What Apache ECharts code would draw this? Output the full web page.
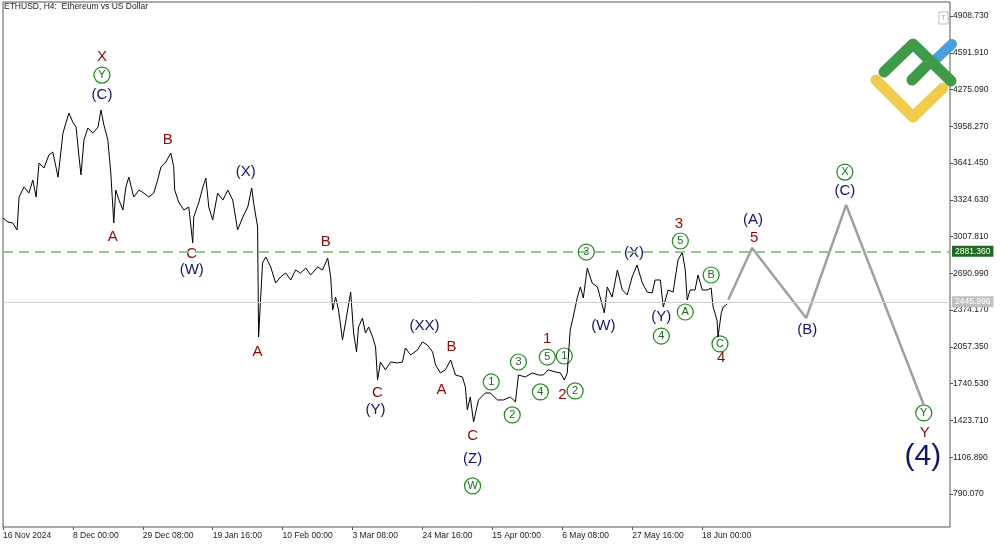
<!DOCTYPE html>
<html>
<head>
<meta charset="utf-8">
<script src="https://cdn.jsdelivr.net/npm/echarts@6/dist/echarts.min.js"></script>
<style>html,body{margin:0;padding:0;background:#fff}#main{width:1000px;height:545px}</style>
</head>
<body>
<div id="main"></div>
<script>
// days since 16 Nov 2024 00:00, ETHUSD H4 price
var priceDays = [0,1.5,3.0,4.3,4.9,6.4,7.9,9.1,10.1,11.0,12.5,14.0,15.2,16.8,18.3,19.2,20.1,21.3,22.3,23.2,23.8,24.7,25.9,27.4,29.0,29.9,30.8,32.0,32.9,33.8,34.4,35.4,36.6,37.5,38.4,39.9,41.5,43.0,44.5,46.0,47.2,48.2,49.7,51.2,52.1,52.4,53.6,55.2,56.7,57.9,58.2,59.7,61.0,61.9,62.8,64.0,65.5,67.1,68.6,70.1,71.6,73.2,74.7,75.9,76.5,77.7,78.0,79.2,80.2,81.7,83.2,84.7,86.3,87.8,89.3,90.8,92.4,93.9,96.0,97.5,99.1,100.0,100.6,101.5,102.4,103.6,104.5,106.1,107.0,107.9,108.5,109.7,110.6,111.6,112.8,113.7,114.3,115.2,116.7,118.3,120.4,121.9,122.8,124.4,126.5,128.0,129.5,131.1,132.0,133.5,135.0,136.6,138.1,140.2,141.1,141.7,142.6,143.6,145.1,147.2,148.7,150.9,152.7,154.8,156.4,157.3,159.4,161.5,163.4,164.9,166.4,168.6,170.1,171.3,172.2,173.1,174.0,175.3,176.2,177.1,178.3,179.8,181.4,182.3,183.5,184.4,185.9,187.5,189.0,190.5,192.0,193.5,195.1,196.6,198.1,199.0,200.6,201.5,203.0,204.5,206.0,207.3,208.2,208.8,209.7,211.2,212.1,213.4,214.9,216.1,216.7,217.9,218.2,219.2,219.8,221.0];
var priceValues = [3168,3134,3125,3065,3349,3435,3383,3495,3349,3642,3599,3711,3737,3521,3900,3987,4073,3995,3952,3694,3539,3840,3944,3900,3952,4099,3969,3840,3556,3125,3409,3323,3237,3435,3521,3349,3409,3383,3349,3383,3495,3608,3651,3728,3608,3409,3306,3237,3263,2953,3177,3297,3435,3513,3263,3151,3383,3323,3409,3323,3065,3177,3263,3427,3297,3091,2143,2780,2832,2746,2608,2660,2694,2634,2720,2694,2737,2677,2746,2720,2823,2660,2375,2487,2375,2117,2263,2530,2177,2014,2229,2306,2177,2229,2143,2057,1772,1927,1859,1927,1919,1927,2048,1988,2031,2100,2074,2014,1902,1833,1859,1945,1815,1798,1712,1514,1626,1410,1600,1660,1660,1600,1600,1626,1583,1815,1798,1833,1815,1815,1859,1841,1833,1772,1833,2203,2315,2487,2574,2479,2737,2608,2574,2479,2350,2574,2487,2720,2548,2505,2660,2763,2608,2530,2522,2634,2634,2401,2548,2530,2806,2875,2720,2462,2548,2548,2677,2548,2548,2565,2401,2287,2143,2350,2401,2426];
// forecast path
var forecastDays = [221.3,228.6,245.1,257.3,281.0];
var forecastValues = [2462,2910,2306,3280,1557];

var yTicks = [790.07,1106.89,1423.71,1740.53,2057.35,2374.17,2690.99,3007.81,3324.63,3641.45,3958.27,4275.09,4591.91,4908.73];
var xTickLabels = ['16 Nov 2024','8 Dec 00:00','29 Dec 08:00','19 Jan 16:00','10 Feb 00:00','3 Mar 08:00','24 Mar 16:00','15 Apr 00:00','6 May 08:00','27 May 16:00','18 Jun 00:00'];
var resistanceLevel = 2881.36;
var lastPrice = 2445.996;

// wave labels
var redText = ['X','A','B','C','A','B','C','A','B','C','1','2','3','5','4','Y'];
var redDays = [30.2,33.5,50.3,57.6,77.7,98.5,114.3,133.8,136.9,143.3,166.1,170.7,206.3,229.2,219.2,281.3];
var redValues = [4560,3004,3840,2858,2014,2961,1660,1686,2057,1290,2126,1643,3116,2996,1962,1316];
var blueText = ['(C)','(W)','(X)','(XX)','(Y)','(Z)','(W)','(X)','(Y)','(A)','(B)','(C)'];
var blueDays = [30.2,57.6,74.1,128.6,113.7,143.3,183.2,192.6,200.9,228.9,245.4,256.9];
var blueValues = [4228,2720,3564,2237,1514,1092,2237,2866,2315,3151,2203,3401];
var circText = ['Y','W','1','2','3','4','5','1','2','3','4','5','A','B','C','X','Y'];
var circDays = [30.2,143.3,149.0,155.4,157.3,164.0,166.1,171.3,174.6,178.0,200.9,206.7,208.2,216.1,218.8,256.9,281.0];
var circValues = [4400,859,1755,1471,1927,1669,1970,1979,1678,2875,2151,2970,2358,2677,2083,3564,1488];

function zip(a, b, t) { return a.map(function (v, i) { return t ? { value: [v, b[i]], name: t[i] } : [v, b[i]]; }); }

var chart = echarts.init(document.getElementById('main'));
var dayStep = 64 / 3;
var xTicks = xTickLabels.map(function (s, i) { return i * dayStep; });
var font = 'Liberation Sans';

chart.setOption({
    animation: false,
    grid: { left: 2, right: 50, top: 2, bottom: 18, show: true, borderColor: '#555', borderWidth: 1 },
    xAxis: {
        type: 'value', min: 0, max: 289,
        axisLine: { show: false, onZero: false },
        axisTick: { show: true, length: 3, customValues: xTicks, lineStyle: { color: '#555' } },
        splitLine: { show: false },
        axisLabel: {
            color: '#222', fontSize: 8.5, fontFamily: font, align: 'left', margin: 4, customValues: xTicks,
            formatter: function (v) { return xTickLabels[Math.round(v / dayStep)] || ''; }
        }
    },
    yAxis: {
        type: 'value', position: 'right', min: 505, max: 5030,
        axisLine: { show: false, onZero: false },
        splitLine: { show: false },
        axisTick: { show: true, length: 3, customValues: yTicks, lineStyle: { color: '#555' } },
        axisLabel: { color: '#222', fontSize: 8.5, fontFamily: font, margin: 3, customValues: yTicks, formatter: function (v) { return v.toFixed(3); } }
    },
    series: [{
        type: 'line', data: zip(priceDays, priceValues), symbol: 'none',
        lineStyle: { color: '#000', width: 1 },
        markLine: {
            symbol: 'none', silent: true,
            data: [
                { yAxis: resistanceLevel, lineStyle: { color: '#8fc98f', type: [10, 6], width: 2 },
                  label: { position: 'end', distance: 2, formatter: resistanceLevel.toFixed(3), color: '#fff', backgroundColor: '#1f6b1f', padding: [1, 3], fontSize: 8.5, fontFamily: font } },
                { yAxis: lastPrice, lineStyle: { color: '#cfcfcf', type: 'solid', width: 1 },
                  label: { position: 'end', distance: 2, formatter: lastPrice.toFixed(3), color: '#fff', backgroundColor: '#c0c0c0', padding: [1, 3], fontSize: 8.5, fontFamily: font } }
            ]
        }
    }, {
        type: 'line', data: zip(forecastDays, forecastValues), symbol: 'none',
        lineStyle: { color: '#a0a0a0', width: 2.5 }
    }, {
        type: 'scatter', data: zip(redDays, redValues, redText), symbolSize: 0, itemStyle: { opacity: 1 },
        label: { show: true, position: 'inside', formatter: '{b}', color: '#8b0a0a', fontSize: 15, fontFamily: font }
    }, {
        type: 'scatter', data: zip(blueDays, blueValues, blueText), symbolSize: 0, itemStyle: { opacity: 1 },
        label: { show: true, position: 'inside', formatter: '{b}', color: '#14146e', fontSize: 15, fontFamily: font }
    }, {
        type: 'scatter', data: [{ value: [280.7, 1109], name: '(4)' }], symbolSize: 0, itemStyle: { opacity: 1 },
        label: { show: true, position: 'inside', formatter: '{b}', color: '#14146e', fontSize: 30, fontFamily: font }
    }, {
        type: 'scatter', data: zip(circDays, circValues, circText), symbol: 'circle', symbolSize: 16,
        itemStyle: { color: '#fff', borderColor: '#1c8a1c', borderWidth: 1.2, opacity: 1 },
        label: { show: true, position: 'inside', formatter: '{b}', color: '#1c6e1c', fontSize: 11, fontFamily: font }
    }],
    graphic: [
        { type: 'text', left: 4, top: 2, style: { text: 'ETHUSD, H4:  Ethereum vs US Dollar', fill: '#222', font: '8.5px ' + font } },
        { type: 'rect', shape: { x: 939, y: 12, width: 9, height: 12 }, style: { fill: '#fff', stroke: '#bbb' } },
        { type: 'text', x: 941, y: 14, style: { text: 'T', fill: '#aaa', font: '8px ' + font } },
        { type: 'polyline', shape: { points: [[933, 62], [952, 44]] }, style: { stroke: '#4a9fdc', lineWidth: 10, lineCap: 'round', fill: null } },
        { type: 'polyline', shape: { points: [[876, 80], [913, 117], [943, 88]] }, style: { stroke: '#f0cb4c', lineWidth: 11, lineCap: 'round', lineJoin: 'round', fill: null } },
        { type: 'polyline', shape: { points: [[884, 72], [913, 44], [951, 81]] }, style: { stroke: '#3f9a4a', lineWidth: 11, lineCap: 'round', lineJoin: 'round', fill: null } },
        { type: 'polyline', shape: { points: [[912, 80], [930, 62]] }, style: { stroke: '#3f9a4a', lineWidth: 11, lineCap: 'round', fill: null } }
    ]
});
</script>
</body>
</html>
